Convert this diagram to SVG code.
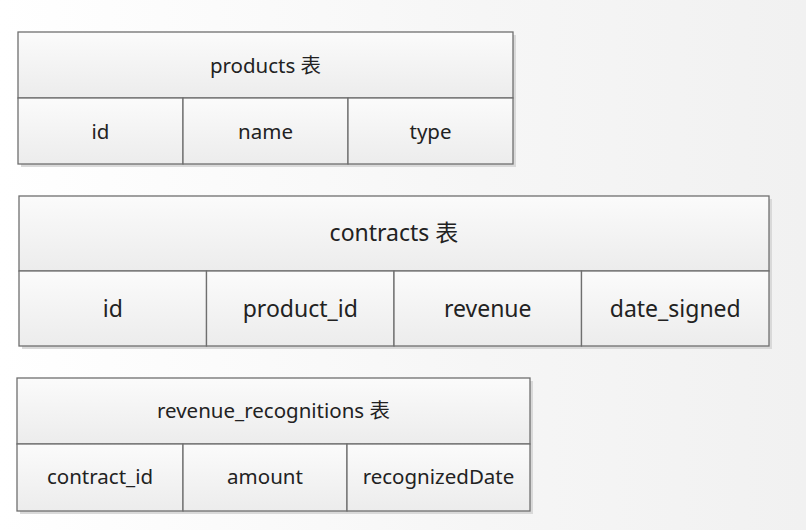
<svg xmlns="http://www.w3.org/2000/svg" width="806" height="530" viewBox="0 0 806 530">
<defs>
<linearGradient id="bg" x1="0" y1="0" x2="1" y2="0">
<stop offset="0" stop-color="#ffffff"/>
<stop offset="0.6" stop-color="#f6f6f6"/>
<stop offset="1" stop-color="#f1f1f1"/>
</linearGradient>
<linearGradient id="cell" x1="0" y1="0" x2="0" y2="1">
<stop offset="0" stop-color="#fbfbfb"/>
<stop offset="1" stop-color="#ececec"/>
</linearGradient>
</defs>
<style>
.c{fill:url(#cell);stroke:#6f6f6f;stroke-width:1.3}
.sh{fill:#d9d9d9}
.t{font-family:"Noto Sans","Noto Sans CJK SC",sans-serif;fill:#222;text-anchor:middle;dominant-baseline:central}
.s{font-size:20.5px}
.l{font-size:23px}
</style>
<rect width="806" height="530" fill="url(#bg)"/>
<g id="products">
<rect class="sh" x="21" y="35" width="495" height="132"/>
<rect class="c" x="18" y="32" width="495" height="66"/>
<rect class="c" x="18" y="98" width="165" height="66"/>
<rect class="c" x="183" y="98" width="165" height="66"/>
<rect class="c" x="348" y="98" width="165" height="66"/>
<text class="t s" x="265.5" y="65">products 表</text>
<text class="t s" x="100.5" y="131">id</text>
<text class="t s" x="265.5" y="131">name</text>
<text class="t s" x="430.5" y="131">type</text>
</g>
<g id="contracts">
<rect class="sh" x="22" y="199" width="750" height="150"/>
<rect class="c" x="19" y="196" width="750" height="75"/>
<rect class="c" x="19" y="271" width="187.5" height="75"/>
<rect class="c" x="206.5" y="271" width="187.5" height="75"/>
<rect class="c" x="394" y="271" width="187.5" height="75"/>
<rect class="c" x="581.5" y="271" width="187.5" height="75"/>
<text class="t l" x="394" y="232">contracts 表</text>
<text class="t l" x="112.75" y="308">id</text>
<text class="t l" x="300.25" y="308">product_id</text>
<text class="t l" x="487.75" y="308">revenue</text>
<text class="t l" x="675.25" y="308">date_signed</text>
</g>
<g id="revenue_recognitions">
<rect class="sh" x="20" y="381" width="513" height="133"/>
<rect class="c" x="17" y="378" width="513" height="66"/>
<rect class="c" x="17" y="444" width="166" height="67"/>
<rect class="c" x="183" y="444" width="164" height="67"/>
<rect class="c" x="347" y="444" width="183" height="67"/>
<text class="t s" x="273.5" y="410">revenue_recognitions 表</text>
<text class="t s" x="100" y="476">contract_id</text>
<text class="t s" x="265" y="476">amount</text>
<text class="t s" x="438.5" y="476">recognizedDate</text>
</g>
<g id="connectors"/>
</svg>
